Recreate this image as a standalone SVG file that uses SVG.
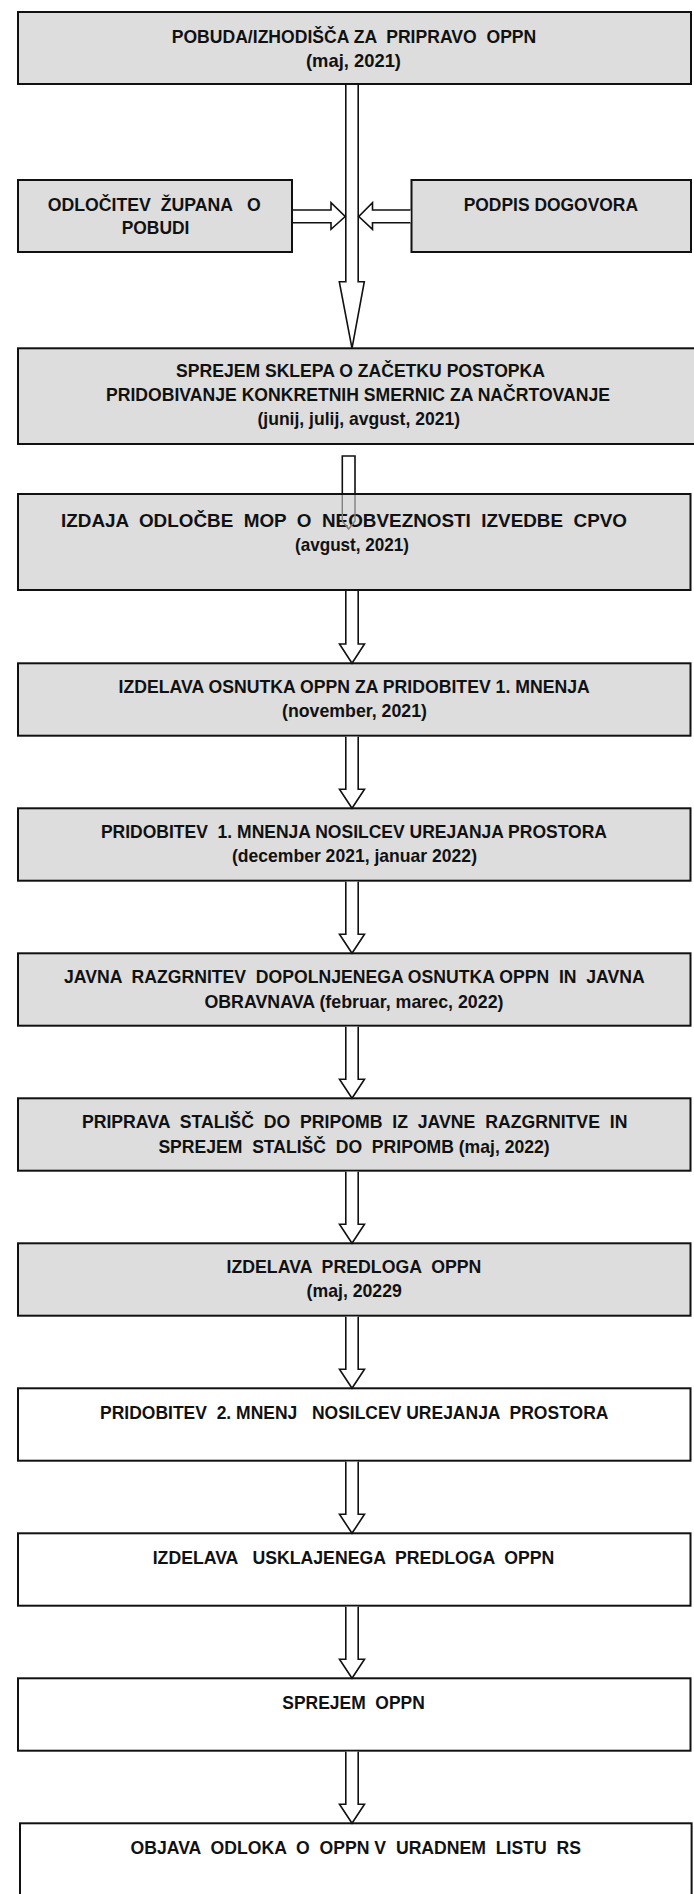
<svg xmlns="http://www.w3.org/2000/svg" width="694" height="1894" viewBox="0 0 694 1894" xml:space="preserve">
<style>
.g{fill:#dddddd;stroke:#111;stroke-width:2}
.w{fill:#ffffff;stroke:#111;stroke-width:2}
.t{font-family:"Liberation Sans Narrow","Arial Narrow","Liberation Sans",Arial,sans-serif;font-weight:bold;font-size:18.5px;fill:#111;white-space:pre}
.a{fill:#ffffff;stroke:#111;stroke-width:1.6;stroke-linejoin:miter}
.ag{fill:none;stroke:#808080;stroke-width:1.4}
</style>
<rect width="694" height="1894" fill="#ffffff"/>
<g id="n1"><rect class="g" x="18" y="12" width="673" height="72"/>
<text class="t" x="171.7" y="42.7" textLength="364.6" lengthAdjust="spacingAndGlyphs">POBUDA/IZHODIŠČA ZA  PRIPRAVO  OPPN</text>
<text class="t" x="306" y="66.7" textLength="95" lengthAdjust="spacingAndGlyphs">(maj, 2021)</text></g>
<g id="n2"><rect class="g" x="18" y="180" width="274" height="72"/>
<text class="t" x="47.8" y="210.5" textLength="213" lengthAdjust="spacingAndGlyphs">ODLOČITEV  ŽUPANA   O</text>
<text class="t" x="121.7" y="234" textLength="67.7" lengthAdjust="spacingAndGlyphs">POBUDI</text></g>
<g id="n3"><rect class="g" x="411.5" y="180" width="279.5" height="72"/>
<text class="t" x="463.7" y="210.5" textLength="174.3" lengthAdjust="spacingAndGlyphs">PODPIS DOGOVORA</text></g>
<g id="n4"><rect class="g" x="18" y="348.3" width="690" height="95.7"/>
<text class="t" x="176" y="377" textLength="369" lengthAdjust="spacingAndGlyphs">SPREJEM SKLEPA O ZAČETKU POSTOPKA</text>
<text class="t" x="106" y="401" textLength="504" lengthAdjust="spacingAndGlyphs">PRIDOBIVANJE KONKRETNIH SMERNIC ZA NAČRTOVANJE</text>
<text class="t" x="257.5" y="425" textLength="202.5" lengthAdjust="spacingAndGlyphs">(junij, julij, avgust, 2021)</text></g>
<g id="n5"><rect class="g" x="18" y="494" width="672.5" height="96"/>
<text class="t" x="61" y="526.5" textLength="566" lengthAdjust="spacingAndGlyphs">IZDAJA  ODLOČBE  MOP  O  NEOBVEZNOSTI  IZVEDBE  CPVO</text>
<text class="t" x="295" y="550.5" textLength="114" lengthAdjust="spacingAndGlyphs">(avgust, 2021)</text></g>
<g id="n6"><rect class="g" x="18" y="663.3" width="672.5" height="72.4"/>
<text class="t" x="118.6" y="693.3" textLength="471.2" lengthAdjust="spacingAndGlyphs">IZDELAVA OSNUTKA OPPN ZA PRIDOBITEV 1. MNENJA</text>
<text class="t" x="282" y="717.3" textLength="145" lengthAdjust="spacingAndGlyphs">(november, 2021)</text></g>
<g id="n7"><rect class="g" x="18" y="808.3" width="672.5" height="72.4"/>
<text class="t" x="100.9" y="838.3" textLength="506.1" lengthAdjust="spacingAndGlyphs">PRIDOBITEV  1. MNENJA NOSILCEV UREJANJA PROSTORA</text>
<text class="t" x="231.9" y="862.3" textLength="245.1" lengthAdjust="spacingAndGlyphs">(december 2021, januar 2022)</text></g>
<g id="n8"><rect class="g" x="18" y="953.3" width="672.5" height="72.4"/>
<text class="t" x="64" y="983.3" textLength="580.7" lengthAdjust="spacingAndGlyphs">JAVNA  RAZGRNITEV  DOPOLNJENEGA OSNUTKA OPPN  IN  JAVNA</text>
<text class="t" x="204.4" y="1008" textLength="299.1" lengthAdjust="spacingAndGlyphs">OBRAVNAVA (februar, marec, 2022)</text></g>
<g id="n9"><rect class="g" x="18" y="1098.3" width="672.5" height="72.4"/>
<text class="t" x="81.9" y="1128.3" textLength="545.5" lengthAdjust="spacingAndGlyphs">PRIPRAVA  STALIŠČ  DO  PRIPOMB  IZ  JAVNE  RAZGRNITVE  IN</text>
<text class="t" x="158.4" y="1153" textLength="391.2" lengthAdjust="spacingAndGlyphs">SPREJEM  STALIŠČ  DO  PRIPOMB (maj, 2022)</text></g>
<g id="n10"><rect class="g" x="18" y="1243.3" width="672.5" height="72.4"/>
<text class="t" x="226.5" y="1273.3" textLength="254.9" lengthAdjust="spacingAndGlyphs">IZDELAVA  PREDLOGA  OPPN</text>
<text class="t" x="306.6" y="1297.3" textLength="95.2" lengthAdjust="spacingAndGlyphs">(maj, 20229</text></g>
<g id="n11"><rect class="w" x="18" y="1388.3" width="672.5" height="72.4"/>
<text class="t" x="100" y="1418.5" textLength="508.4" lengthAdjust="spacingAndGlyphs">PRIDOBITEV  2. MNENJ   NOSILCEV UREJANJA  PROSTORA</text></g>
<g id="n12"><rect class="w" x="18" y="1533.3" width="672.5" height="72.4"/>
<text class="t" x="152.7" y="1563.5" textLength="401.7" lengthAdjust="spacingAndGlyphs">IZDELAVA   USKLAJENEGA  PREDLOGA  OPPN</text></g>
<g id="n13"><rect class="w" x="18" y="1678.3" width="672.5" height="72.4"/>
<text class="t" x="282.3" y="1708.5" textLength="142.5" lengthAdjust="spacingAndGlyphs">SPREJEM  OPPN</text></g>
<g id="n14"><rect class="w" x="20" y="1823.3" width="671.6" height="90"/>
<text class="t" x="130.5" y="1853.5" textLength="450.5" lengthAdjust="spacingAndGlyphs">OBJAVA  ODLOKA  O  OPPN V  URADNEM  LISTU  RS</text></g>
<g id="connectors">
<path class="a" d="M345.8,85 V281.7 H339.3 L352,348.3 L364.3,281.7 H358.2 V85"/>
<path class="a" d="M293,210 H331 V202.7 L345.2,216.5 L331,229.3 V222.7 H293"/>
<path class="a" d="M410.5,210 H372.5 V202.7 L358.8,216.5 L372.5,229.3 V222.7 H410.5"/>
<path class="a" d="M342.3,493 V456 H355 V493"/>
<path class="ag" d="M342.3,495 V521 L348.6,529 L355,521 V495"/>
<path class="a" d="M345.8,591 V644 H339.5 L352,663.3 L364.5,644 H358.2 V591"/>
<path class="a" d="M345.8,736.7 V789.3 H339.5 L352,808.3 L364.5,789.3 H358.2 V736.7"/>
<path class="a" d="M345.8,881.7 V934.3 H339.5 L352,953.3 L364.5,934.3 H358.2 V881.7"/>
<path class="a" d="M345.8,1026.7 V1079.3 H339.5 L352,1098.3 L364.5,1079.3 H358.2 V1026.7"/>
<path class="a" d="M345.8,1171.7 V1224.3 H339.5 L352,1243.3 L364.5,1224.3 H358.2 V1171.7"/>
<path class="a" d="M345.8,1316.7 V1369.3 H339.5 L352,1388.3 L364.5,1369.3 H358.2 V1316.7"/>
<path class="a" d="M345.8,1461.7 V1514.3 H339.5 L352,1533.3 L364.5,1514.3 H358.2 V1461.7"/>
<path class="a" d="M345.8,1606.7 V1659.3 H339.5 L352,1678.3 L364.5,1659.3 H358.2 V1606.7"/>
<path class="a" d="M345.8,1751.7 V1804.3 H339.5 L352,1823.3 L364.5,1804.3 H358.2 V1751.7"/>
</g>
</svg>
